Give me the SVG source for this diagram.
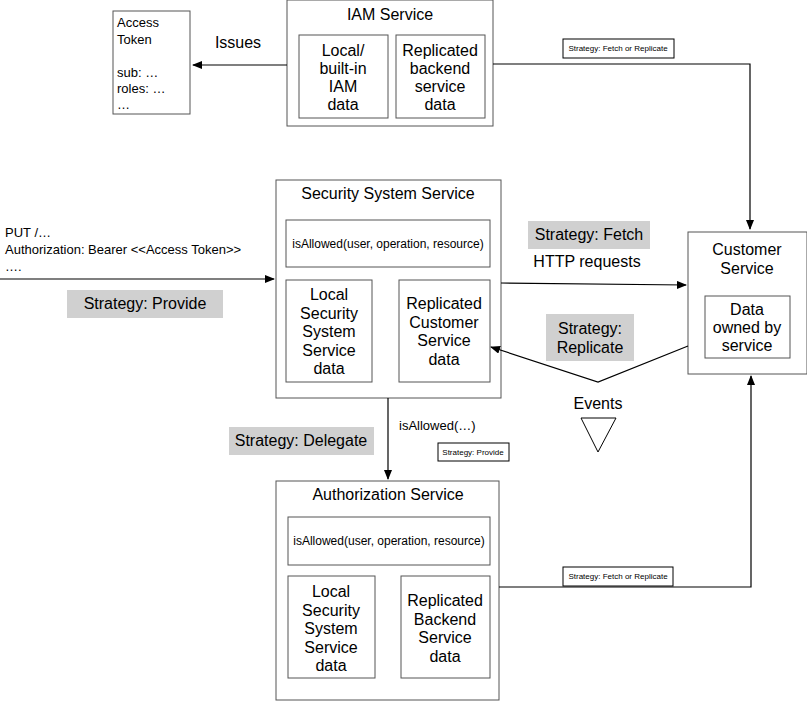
<svg xmlns="http://www.w3.org/2000/svg" width="807" height="702" viewBox="0 0 807 702">
<style>
text{font-family:"Liberation Sans",Arial,sans-serif;fill:#000}
.b{fill:#fff;stroke:#000;stroke-width:1}
.in{fill:#fff;stroke:#555;stroke-width:1}
.g{fill:#d0d0d0;stroke:none}
.t{font-size:16px;text-anchor:middle}
.s{font-size:13px}
.m{font-size:12px;text-anchor:middle}
.xs{font-size:8px;text-anchor:middle}
.l{fill:none;stroke:#000;stroke-width:1.2}
</style>
<defs><marker id="a" markerWidth="10" markerHeight="8" refX="9" refY="4" orient="auto" markerUnits="userSpaceOnUse"><path d="M0,0L10,4L0,8z" fill="#000"/></marker></defs>
<rect width="807" height="702" fill="#fff"/>
<g id="access-token">
<rect class="in" x="113" y="11" width="77" height="103"/>
<text class="s" x="117" y="27">Access</text><text class="s" x="117" y="44">Token</text>
<text class="s" x="117" y="77">sub: …</text><text class="s" x="117" y="93">roles: …</text><text class="s" x="117" y="109">…</text>
</g>
<text class="t" x="238" y="48">Issues</text>
<g id="iam">
<rect class="in" x="287" y="0" width="206" height="126"/>
<text class="t" x="390" y="20">IAM Service</text>
<rect class="in" x="299" y="35" width="89" height="83"/>
<text class="t" x="343" y="56">Local/</text><text class="t" x="343" y="74">built-in</text><text class="t" x="343" y="92">IAM</text><text class="t" x="343" y="110">data</text>
<rect class="in" x="396" y="35" width="89" height="83"/>
<text class="t" x="440" y="56">Replicated</text><text class="t" x="440" y="74">backend</text><text class="t" x="440" y="92">service</text><text class="t" x="440" y="110">data</text>
</g>
<g id="label-fr1"><rect class="b" x="563" y="39" width="111" height="19"/><text class="xs" x="618" y="51">Strategy:  Fetch or Replicate</text></g>
<g id="input"><text class="s" x="5" y="237">PUT /…</text><text class="s" x="5" y="254">Authorization: Bearer &lt;&lt;Access Token&gt;&gt;</text><text class="s" x="5" y="271">….</text></g>
<g id="provide"><rect class="g" x="67" y="290" width="156" height="28"/><text class="t" x="145" y="309">Strategy: Provide</text></g>
<g id="sss">
<rect class="in" x="276" y="180" width="225" height="218"/>
<text class="t" x="388" y="199">Security System Service</text>
<rect class="in" x="286" y="220" width="204" height="47"/>
<text class="m" x="388" y="248">isAllowed(user, operation, resource)</text>
<rect class="in" x="286" y="280" width="86" height="102"/>
<text class="t" x="329" y="300">Local</text><text class="t" x="329" y="319">Security</text><text class="t" x="329" y="337">System</text><text class="t" x="329" y="356">Service</text><text class="t" x="329" y="374">data</text>
<rect class="in" x="399" y="280" width="91" height="102"/>
<text class="t" x="444" y="309">Replicated</text><text class="t" x="444" y="328">Customer</text><text class="t" x="444" y="346">Service</text><text class="t" x="444" y="365">data</text>
</g>
<g id="fetch"><rect class="g" x="528" y="221" width="122" height="28"/><text class="t" x="589" y="240">Strategy:  Fetch</text><text class="t" x="587" y="267">HTTP requests</text></g>
<g id="customer">
<rect class="in" x="688" y="232" width="119" height="142"/>
<text class="t" x="747" y="255">Customer</text><text class="t" x="747" y="274">Service</text>
<rect class="in" x="705" y="296" width="85" height="62"/>
<text class="t" x="747" y="315">Data</text><text class="t" x="747" y="333">owned by</text><text class="t" x="747" y="351">service</text>
</g>
<g id="replicate"><rect class="g" x="546" y="314" width="88" height="47"/><text class="t" x="590" y="334">Strategy:</text><text class="t" x="590" y="353">Replicate</text></g>
<g id="events"><text class="t" x="598" y="409">Events</text><polygon points="581,418 616,418 598,452" fill="#fff" stroke="#000"/></g>
<text class="s" x="399" y="430">isAllowed(…)</text>
<g id="label-prov2"><rect class="b" x="438" y="443" width="71" height="18"/><text class="xs" x="473" y="455">Strategy: Provide</text></g>
<g id="delegate"><rect class="g" x="229" y="427" width="145" height="28"/><text class="t" x="301" y="446">Strategy:  Delegate</text></g>
<g id="auth">
<rect class="in" x="276" y="481" width="223" height="219"/>
<text class="t" x="388" y="500">Authorization Service</text>
<rect class="in" x="288" y="517" width="202" height="48"/>
<text class="m" x="389" y="545">isAllowed(user, operation, resource)</text>
<rect class="in" x="288" y="576" width="87" height="102"/>
<text class="t" x="331" y="597">Local</text><text class="t" x="331" y="616">Security</text><text class="t" x="331" y="634">System</text><text class="t" x="331" y="653">Service</text><text class="t" x="331" y="671">data</text>
<rect class="in" x="401" y="576" width="89" height="102"/>
<text class="t" x="445" y="606">Replicated</text><text class="t" x="445" y="625">Backend</text><text class="t" x="445" y="643">Service</text><text class="t" x="445" y="662">data</text>
</g>
<g id="label-fr2"><rect class="b" x="563" y="567" width="110" height="19"/><text class="xs" x="618" y="579">Strategy:  Fetch or Replicate</text></g>
<g id="connectors">
<line class="l" x1="287" y1="65" x2="193" y2="65" marker-end="url(#a)"/>
<polyline class="l" points="493,64 750,64 750,229" marker-end="url(#a)"/>
<line class="l" x1="0" y1="279" x2="274" y2="279" marker-end="url(#a)"/>
<line class="l" x1="501" y1="283" x2="686" y2="285" marker-end="url(#a)"/>
<polyline class="l" points="688,346 598,382 491,347" marker-end="url(#a)"/>
<line class="l" x1="388" y1="398" x2="388" y2="479" marker-end="url(#a)"/>
<polyline class="l" points="499,587 751,587 751,376" marker-end="url(#a)"/>
</g>
</svg>
